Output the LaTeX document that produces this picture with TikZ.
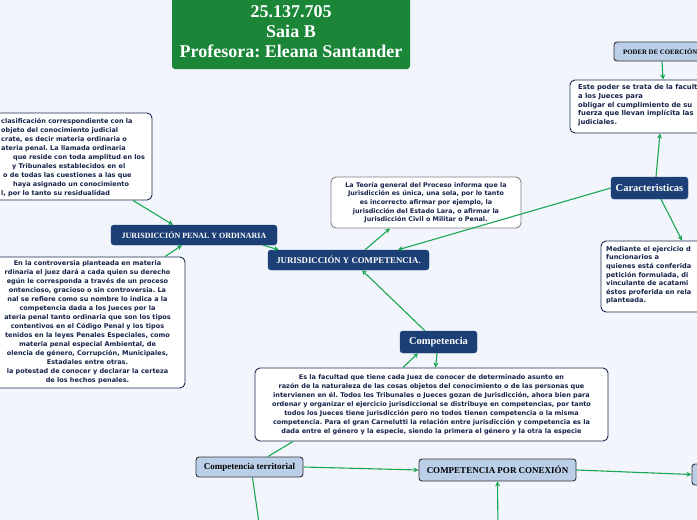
\documentclass[tikz,border=0pt]{standalone}
\usepackage{fontspec}
\setmainfont{Liberation Serif}
\newfontfamily\bodysans{DejaVu Sans}
\usetikzlibrary{arrows.meta}
\frenchspacing
\definecolor{bg}{HTML}{F2F5FC}
\definecolor{navy}{HTML}{1C3F75}
\definecolor{lblue}{HTML}{BCCFE9}
\definecolor{edgegreen}{HTML}{19A653}
\definecolor{titlegreen}{HTML}{1B8538}
\definecolor{noteborder}{HTML}{1D2A4F}
\definecolor{notetextc}{HTML}{16224A}
\tikzset{
  darkbox/.style={fill=navy, draw=navy, rounded corners=3pt, text=white, inner sep=0pt, align=center},
  lightbox/.style={fill=lblue, draw=black!80, line width=0.9pt, rounded corners=3pt, text=black, inner sep=0pt, align=center},
  notebox/.style={fill=white, draw=noteborder, line width=0.9pt, rounded corners=5pt, inner sep=0pt},
  notetext/.style={text=notetextc, inner sep=0pt, font={\bodysans\bfseries\fontsize{6.5}{9}\selectfont}},
  conn/.style={draw=edgegreen, line width=1.1pt, -{Stealth[length=5pt,width=5pt]}},
  plainconn/.style={draw=edgegreen, line width=1.1pt}
}
\begin{document}
\begin{tikzpicture}[x=1pt,y=-1pt]
\useasboundingbox (0,0) rectangle (697,520);
\clip (0,0) rectangle (697,520);
\fill[bg] (0,0) rectangle (697,520);

% title
\node[fill=titlegreen, rounded corners=3pt, text=white, align=center, inner sep=0pt,
      minimum width=238pt, minimum height=75pt,
      font={\bfseries\fontsize{18}{20}\selectfont}] (title) at (291,31.5)
  {25.137.705\\Saia B\\Profesora: Eleana Santander};

% left top note
\node[notebox, minimum width=162pt, minimum height=87pt] (lefttop) at (71,156.5) {};
\node[notetext, anchor=north west, align=left] (lefttoptext) at (1,118.5)
  {clasificación correspondiente con la\\
   objeto del conocimiento judicial\\
   crate, es decir materia ordinaria o\\
   ateria penal. La llamada ordinaria\\
   \hspace*{12pt}que reside con toda amplitud en los\\
   \hspace*{11pt}y Tribunales establecidos en el\\
   \hspace*{2pt}o de todas las cuestiones a las que\\
   \hspace*{12pt}haya asignado un conocimiento\\
   l, por lo tanto su residualidad};

% left middle note
\node[notebox, notetext, align=center, minimum width=195pt, minimum height=131pt] (leftmid) at (87.5,322.5)
  {En la controversia planteada en materia\\
   rdinaria el juez dará a cada quien su derecho\\
   egún le corresponda a través de un proceso\\
   ontencioso, gracioso o sin controversia. La\\
   nal se refiere como su nombre lo indica a la\\
   competencia dada a los Jueces por la\\
   ateria penal tanto ordinaria que son los tipos\\
   contentivos en el Código Penal y los tipos\\
   tenidos en la leyes Penales Especiales, como\\
   materia penal especial Ambiental, de\\
   olencia de género, Corrupción, Municipales,\\
   Estadales entre otras.\\
   la potestad de conocer y declarar la certeza\\
   de los hechos penales.};

% teoria note
\node[notebox, draw=black!50, notetext, align=center, minimum width=190pt, minimum height=51pt,
      font={\bodysans\bfseries\fontsize{6.4}{8.6}\selectfont}] (teoria) at (426,202.5)
  {La Teoría general del Proceso informa que la\\
   Jurisdicción es única, una sola, por lo tanto\\
   es incorrecto afirmar por ejemplo, la\\
   jurisdicción del Estado Lara, o afirmar la\\
   Jurisdicción Civil o Militar o Penal.};

% dark boxes
\node[darkbox, minimum width=166pt, minimum height=20pt, font={\bfseries\fontsize{8}{9}\selectfont}] (jpo) at (194,235)
  {JURISDICCIÓN PENAL Y ORDINARIA};
\node[darkbox, minimum width=161pt, minimum height=20pt, font={\bfseries\fontsize{8.8}{9}\selectfont}] (jyc) at (348.5,260)
  {JURISDICCIÓN Y COMPETENCIA.};
\node[darkbox, minimum width=77pt, minimum height=22pt, font={\bfseries\fontsize{10.5}{11}\selectfont}] (comp) at (438.5,342)
  {Competencia};
\node[darkbox, minimum width=77pt, minimum height=22pt, font={\bfseries\fontsize{10.5}{11}\selectfont}] (caract) at (649.5,188)
  {Caracteristicas};

% poder de coercion
\node[lightbox, minimum width=126pt, minimum height=19pt] (poder) at (677,51.5) {};
\node[anchor=west, inner sep=0pt, font={\bfseries\fontsize{6.8}{7}\selectfont}] (podertext) at (623,51.5)
  {PODER DE COERCIÓN};

% right top note
\node[notebox, minimum width=170pt, minimum height=53pt] (righttop) at (655,106.5) {};
\node[notetext, anchor=north west, align=left, font={\bodysans\bfseries\fontsize{6.8}{8.6}\selectfont}] (righttoptext) at (578,84.5)
  {Este poder se trata de la facult\\
   a los Jueces para\\
   obligar el cumplimiento de su\\
   fuerza que llevan implícita las\\
   judiciales.};

% right middle note
\node[notebox, minimum width=139pt, minimum height=71pt] (rightmid) at (670.5,276.5) {};
\node[notetext, anchor=north west, align=left, font={\bodysans\bfseries\fontsize{6.6}{8.6}\selectfont}] (rightmidtext) at (606,246)
  {Mediante el ejercicio d\\
   funcionarios a\\
   quienes está conferida\\
   petición formulada, di\\
   vinculante de acatami\\
   éstos proferida en rela\\
   planteada.};

% bottom note
\node[notebox, notetext, align=center, minimum width=353pt, minimum height=73pt] (bottom) at (431.5,404.5)
  {Es la facultad que tiene cada Juez de conocer de determinado asunto en\\
   razón de la naturaleza de las cosas objetos del conocimiento o de las personas que\\
   intervienen en él. Todos los Tribunales o Jueces gozan de Jurisdicción, ahora bien para\\
   ordenar y organizar el ejercicio jurisdiccional se distribuye en competencias, por tanto\\
   todos los Jueces tiene jurisdicción pero no todos tienen competencia o la misma\\
   competencia. Para el gran Carnelutti la relación entre jurisdicción y competencia es la\\
   dada entre el género y la especie, siendo la primera el género y la otra la especie};

% light boxes bottom
\node[lightbox, minimum width=107pt, minimum height=20pt, font={\bfseries\fontsize{9}{10}\selectfont}] (terr) at (249.5,467)
  {Competencia territorial};
\node[lightbox, minimum width=157pt, minimum height=22pt, font={\bfseries\fontsize{9}{10}\selectfont}] (conex) at (497.5,470)
  {COMPETENCIA POR CONEXIÓN};
\node[lightbox, minimum width=48pt, minimum height=21pt] (rcut) at (716,474.5) {};

\coordinate (terrdown) at (260,530);
\coordinate (conexup) at (498,530);

% connectors
\draw[conn] ([xshift=62pt]lefttop.south) -- ([xshift=-21pt]jpo.north);
\draw[conn] ([xshift=77.5pt]leftmid.north) -- ([xshift=-12pt]jpo.south);
\draw[conn] ([xshift=-14pt]jpo.south east) -- ([xshift=11pt]jyc.north west);
\draw[conn] ([xshift=16.5pt]jyc.north) -- ([xshift=-36pt]teoria.south);
\draw[conn] (caract.west) -- ([xshift=49.5pt]jyc.north);
\draw[conn] ([xshift=-13.5pt]comp.north) -- ([xshift=13.5pt]jyc.south);
\draw[conn] ([xshift=-28.5pt]bottom.north) -- ([xshift=-20.5pt]comp.south);
\draw[conn] ([xshift=-1.5pt]comp.south) -- ([xshift=4pt]bottom.north);
\draw[plainconn] ([xshift=-138.5pt]bottom.south) -- ([xshift=18.5pt]terr.north);
\draw[plainconn] ([xshift=3pt]terr.south) -- (terrdown);
\draw[conn] (terr.east) -- (conex.west);
\draw[conn] (conex.east) -- (rcut.west);
\draw[conn] (conexup) -- (conex.south);
\draw[conn] ([xshift=-15pt]poder.south) -- ([xshift=8pt]righttop.north);
\draw[conn] ([xshift=6.5pt]caract.north) -- ([xshift=5pt]righttop.south);
\draw[conn] ([xshift=11.5pt]caract.south) -- ([xshift=11.5pt]rightmid.north);
\end{tikzpicture}
\end{document}
